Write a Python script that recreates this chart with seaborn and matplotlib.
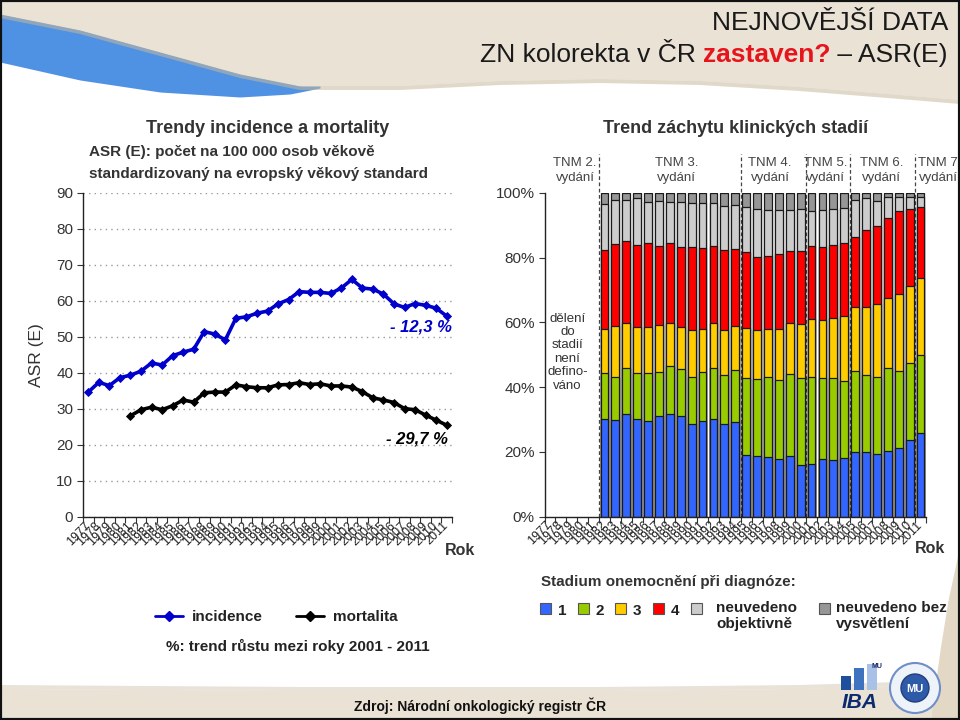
import matplotlib
matplotlib.use("Agg")
import numpy as np
import pandas as pd
import matplotlib.pyplot as plt
import seaborn as sns
from matplotlib import font_manager
from matplotlib.patches import Rectangle, Circle
from matplotlib.lines import Line2D

# ---------------- data ----------------
years = list(range(1977, 2012))
incidence = [34.7, 37.4, 36.5, 38.7, 39.4, 40.5, 42.8, 42.2, 44.8, 45.8,
             46.6, 51.5, 50.8, 49.2, 55.2, 55.6, 56.6, 57.2, 59.2, 60.4,
             62.6, 62.4, 62.4, 62.1, 63.6, 66.0, 63.6, 63.3, 61.9, 59.2,
             58.2, 59.3, 58.8, 58.0, 55.8]
mortality_years = list(range(1981, 2012))
mortality = [28.1, 29.8, 30.5, 29.8, 30.9, 32.5, 31.9, 34.5, 34.7, 34.7,
             36.7, 36.2, 35.9, 35.9, 36.7, 36.8, 37.3, 36.8, 37.0, 36.4,
             36.4, 36.1, 34.8, 33.1, 32.5, 31.8, 30.1, 29.8, 28.3, 26.9,
             25.5]
line_labels = ["incidence", "mortalita"]
trend_labels = ["- 12,3 %", "- 29,7 %"]

stage_years = list(range(1982, 2012))
stage_1 = [30.1, 29.9, 31.7, 30.1, 29.6, 31.2, 31.7, 31.2, 28.6, 29.6,
           30.1, 28.6, 29.2, 19.0, 18.8, 18.5, 17.8, 18.8, 15.9, 16.3,
           17.8, 17.5, 18.2, 20.0, 20.0, 19.2, 20.3, 21.3, 23.6, 25.7]
stage_2 = [14.2, 13.3, 14.1, 14.2, 14.7, 13.4, 14.9, 14.3, 14.6, 15.0,
           15.9, 15.1, 16.1, 23.9, 23.7, 24.7, 24.4, 25.2, 27.0, 26.9,
           25.1, 25.4, 23.7, 25.0, 23.7, 24.0, 25.5, 23.7, 24.0, 24.2]
stage_3 = [13.7, 15.7, 13.9, 14.2, 14.2, 14.6, 13.1, 13.0, 14.4, 13.4,
           13.7, 13.9, 13.6, 15.3, 15.1, 14.8, 15.8, 15.7, 16.5, 17.8,
           17.8, 18.4, 20.1, 19.7, 21.0, 22.5, 21.6, 23.8, 23.7, 23.9]
stage_4 = [24.4, 25.3, 25.5, 25.4, 26.1, 24.4, 24.9, 24.7, 25.6, 24.9,
           23.9, 24.8, 23.8, 23.5, 22.7, 22.6, 23.2, 22.4, 22.7, 22.7,
           22.7, 22.6, 22.6, 21.8, 23.9, 24.2, 24.8, 25.6, 23.7, 21.8]
stage_unknown_obj = [14.1, 13.5, 12.7, 14.4, 12.7, 14.0, 12.7, 14.1, 13.6, 13.9,
                     13.4, 13.7, 13.6, 14.1, 14.7, 14.1, 13.5, 12.6, 13.1, 10.8,
                     11.3, 11.1, 10.9, 11.3, 9.7, 7.7, 6.5, 4.5, 3.7, 3.3]
stage_unknown_noexp = [3.5, 2.3, 2.1, 1.7, 2.7, 2.4, 2.7, 2.7, 3.2, 3.2,
                       3.0, 3.9, 3.7, 4.2, 5.0, 5.3, 5.3, 5.3, 4.8, 5.5,
                       5.3, 5.0, 4.5, 2.2, 1.7, 2.4, 1.3, 1.1, 1.3, 1.1]
stage_names = ["1", "2", "3", "4", "neuvedeno\nobjektivně", "neuvedeno bez\nvysvětlení"]
tnm_labels = ["TNM 2.\nvydání", "TNM 3.\nvydání", "TNM 4.\nvydání",
              "TNM 5.\nvydání", "TNM 6.\nvydání", "TNM 7\nvydání"]
tnm_first_years = [1982, 1995, 2001, 2005, 2011]

# ---------------- style ----------------
sns.set_theme(style="white")
plt.rcParams['font.family'] = ['Liberation Sans', 'DejaVu Sans']
available = {f.name for f in font_manager.fontManager.ttflist}
narrow = 'Liberation Sans Narrow' in available

inc_color = "#0000CC"
mort_color = "#000000"
stage_colors = ["#3366FF", "#99CC00", "#FFCC00", "#FF0000", "#CCCCCC", "#969696"]
txt = "#333333"

W, H = 960, 720
fig = plt.figure(figsize=(9.6, 7.2), dpi=100)
def fx(x): return x / W
def fy(y): return 1 - y / H

# ---------------- background decoration ----------------
bg = fig.add_axes([0, 0, 1, 1], zorder=-10)
bg.set_xlim(0, W); bg.set_ylim(H, 0); bg.axis('off')
xs = np.linspace(0, W, 300)
top_edge = np.interp(xs, [0, 80, 160, 240, 300, 400, 500, 600, 700, 800, 900, 960],
                     [14, 30, 52, 74, 86, 86, 81, 79, 81, 87, 95, 100])
xb = np.linspace(0, 320, 120)
blue_low = np.interp(xb, [0, 80, 160, 240, 290, 320], [62, 80, 92, 97, 94, 88])
bg.fill_between(xb, np.interp(xb, xs, top_edge), blue_low, color="#4f92e3", lw=0)
bg.fill_between(xs, 0, top_edge, color="#E9E2D5", lw=0)
bg.fill_between(xs, top_edge, top_edge + 4, color="#C8B89B", alpha=0.55, lw=0)
bot_edge = np.interp(xs, [0, 300, 600, 800, 900, 960], [689, 691, 691, 689, 686, 683])
bg.fill_between(xs, bot_edge, H, color="#E9E2D5", lw=0)
bg.fill_between(xs, bot_edge - 4, bot_edge, color="#D9CFBE", alpha=0.6, lw=0)
yr = np.linspace(545, 720, 60)
bg.fill_betweenx(yr, np.interp(yr, [545, 600, 650, 700, 720], [960, 948, 940, 933, 931]), W,
                 color="#E3D8C6", lw=0)
bg.add_patch(Rectangle((0, 0), W, H, fill=False, ec="#111111", lw=3))
# logos (simplified)
for bx, bh, bc in [(841, 14, "#1f4e9c"), (854, 22, "#3f73bf"), (867, 26, "#a9c1e6")]:
    bg.add_patch(Rectangle((bx, 690 - bh), 10, bh, color=bc, lw=0))
bg.text(877, 666, "MU", fontsize=5, fontweight='bold', color="#1a2a6c", ha='center', va='center')
bg.text(860, 703, "IBA", fontsize=15, fontweight='bold', fontstyle='italic', color="#0b2b6e",
        ha='center', va='center')
bg.add_patch(Circle((915, 688), 25, fc="#eef2f9", ec="#6f8fc8", lw=1.5))
bg.add_patch(Circle((915, 688), 14, fc="#2f5aa8", ec="#1f3f80", lw=1))
bg.text(915, 689, "MU", fontsize=8, fontweight='bold', color="white", ha='center', va='center')

# ---------------- header ----------------
hdr_font = ['Liberation Sans Narrow', 'Liberation Sans'] if narrow else ['Liberation Sans']
hdr_size = 23 if narrow else 19
fig.text(fx(948), fy(30), "NEJNOVĚJŠÍ DATA", ha='right', va='baseline',
         fontsize=hdr_size, family=hdr_font, color="#1a1a1a")
renderer = fig.canvas.get_renderer()
t3 = fig.text(fx(948), fy(62), " – ASR(E)", ha='right', va='baseline',
              fontsize=hdr_size, family=hdr_font, color="#1a1a1a")
x0 = t3.get_window_extent(renderer).x0
t2 = fig.text(x0 / W, fy(62), "zastaven?", ha='right', va='baseline',
              fontsize=hdr_size, family=hdr_font, color="#E8141B", fontweight='bold')
x0 = t2.get_window_extent(renderer).x0
fig.text(x0 / W, fy(62), "ZN kolorekta v ČR ", ha='right', va='baseline',
         fontsize=hdr_size, family=hdr_font, color="#1a1a1a")

# ---------------- left chart ----------------
fig.text(fx(268), fy(133), "Trendy incidence a mortality", ha='center', va='baseline',
         fontsize=13, fontweight='bold', color=txt)
fig.text(fx(89), fy(156), "ASR (E): počet na 100 000 osob věkově", ha='left', va='baseline',
         fontsize=11, fontweight='bold', color=txt)
fig.text(fx(89), fy(178), "standardizovaný na evropský věkový standard", ha='left', va='baseline',
         fontsize=11, fontweight='bold', color=txt)
fig.text(fx(36), fy(355), "ASR (E)", rotation=90, ha='center', va='center', fontsize=12.5, color=txt)

axL = fig.add_axes([fx(83), fy(517), (452 - 83) / W, (517 - 193) / H])
sns.lineplot(x=years, y=incidence, ax=axL, color=inc_color, lw=2.6, marker='D',
             markersize=4.5, markeredgecolor=inc_color, markeredgewidth=0.6)
sns.lineplot(x=mortality_years, y=mortality, ax=axL, color=mort_color, lw=2.6, marker='D',
             markersize=4.5, markeredgecolor=mort_color, markeredgewidth=0.6)
axL.set_xlim(1976.5, 2011.5)
axL.set_ylim(0, 90)
axL.set_yticks(range(0, 91, 10))
axL.grid(axis='y', ls=(0, (1, 3)), color="#9a9a9a", lw=1)
axL.text(2011.5, 52.8, trend_labels[0], ha='right', va='center', fontsize=12,
         fontweight='bold', fontstyle='italic', color=inc_color)
axL.text(2011.1, 21.7, trend_labels[1], ha='right', va='center', fontsize=12,
         fontweight='bold', fontstyle='italic', color=mort_color)

# ---------------- right chart ----------------
fig.text(fx(736), fy(133), "Trend záchytu klinických stadií", ha='center', va='baseline',
         fontsize=13, fontweight='bold', color=txt)
axR = fig.add_axes([fx(544.5), fy(516.5), (926 - 544.5) / W, (516.5 - 193) / H])
layers = np.array([stage_1, stage_2, stage_3, stage_4, stage_unknown_obj, stage_unknown_noexp])
cum = np.cumsum(layers, axis=0)
for i in range(len(layers) - 1, -1, -1):
    sns.barplot(x=stage_years, y=cum[i], native_scale=True, orient='x', color=stage_colors[i],
                saturation=1, width=0.72, edgecolor="#1a1a1a", linewidth=0.9,
                errorbar=None, ax=axR)
axR.set_xlim(1976.5, 2011.5)
axR.set_ylim(0, 100)
axR.set_yticks(range(0, 101, 20))
axR.set_yticklabels([f"{v}%" for v in range(0, 101, 20)])
axR.vlines([y - 0.5 for y in tnm_first_years], 0, 112, colors="#444444",
           linestyles=(0, (3, 2)), lw=0.9, clip_on=False, zorder=0.5)
tnm_x = [1979.3, 1988.6, 1997.2, 2002.3, 2007.4, 2012.6]
for lab, xp in zip(tnm_labels, tnm_x):
    axR.text(xp, 107.0, lab, ha='center', va='center', fontsize=9.5, color="#444444",
             linespacing=1.4)
axR.text(1978.6, 50.8, "dělení\ndo\nstadií\nnení\ndefino-\nváno", ha='center', va='center',
         fontsize=9.5, color=txt, linespacing=1.15)

# ---------------- shared axis styling ----------------
for ax in (axL, axR):
    ax.set_xlabel(""); ax.set_ylabel("")
    ax.set_xticks(years)
    ax.set_xticklabels([str(y) for y in years], rotation=45, ha='right', va='center',
                       rotation_mode='anchor', fontsize=9, color="#222222")
    ax.set_xticks(np.arange(1976.5, 2012, 1.0), minor=True)
    ax.tick_params(axis='x', which='major', length=0, pad=5)
    ax.tick_params(axis='x', which='minor', bottom=True, length=4, width=0.8,
                   color="#333333", direction='out')
    ax.tick_params(axis='y', which='major', left=True, length=4, width=0.8, color="#333333",
                   labelsize=11, labelcolor=txt, pad=3)
    for s in ('top', 'right'):
        ax.spines[s].set_visible(False)
    for s in ('left', 'bottom'):
        ax.spines[s].set_color("#222222")
        ax.spines[s].set_linewidth(1)
    ax.set_facecolor('none')

fig.text(fx(445), fy(555), "Rok", ha='left', va='baseline', fontsize=11.5,
         fontweight='bold', color=txt)
fig.text(fx(915), fy(553), "Rok", ha='left', va='baseline', fontsize=11.5,
         fontweight='bold', color=txt)

# ---------------- legends ----------------
handles = [Line2D([], [], color=inc_color, lw=2, marker='D', markersize=5),
           Line2D([], [], color=mort_color, lw=2, marker='D', markersize=5)]
leg = axL.legend(handles, line_labels, ncol=2, loc='center left',
                 bbox_to_anchor=(fx(155), fy(617)), bbox_transform=fig.transFigure,
                 frameon=False, handlelength=1.8, handletextpad=0.6, columnspacing=2.2,
                 prop={'size': 11, 'weight': 'bold'}, borderaxespad=0, borderpad=0)
for t in leg.get_texts():
    t.set_color("#222222")
fig.text(fx(166), fy(651), "%: trend růstu mezi roky 2001 - 2011", ha='left', va='baseline',
         fontsize=11, fontweight='bold', color="#222222")

fig.text(fx(541), fy(586), "Stadium onemocnění při diagnóze:", ha='left', va='baseline',
         fontsize=11, fontweight='bold', color=txt)
sq_x = [540, 578, 615, 653, 691, 819]
lab_x = [558, 596, 633, 671, 716, 836]
for sx, lx, col, name in zip(sq_x, lab_x, stage_colors, stage_names):
    fig.add_artist(Rectangle((fx(sx), fy(614)), 11 / W, 11 / H, transform=fig.transFigure,
                             fc=col, ec="#555555", lw=0.8))
    multi = '\n' in name
    fig.text(fx(lx), fy(601) if multi else fy(615), name, ha='left',
             va='top' if multi else 'baseline',
             fontsize=11, fontweight='bold', color="#222222", linespacing=1.15)

fig.text(fx(480), fy(711), "Zdroj: Národní onkologický registr ČR", ha='center', va='baseline',
         fontsize=10, fontweight='bold', color="#111111")

fig.savefig("out.png", dpi=100)
